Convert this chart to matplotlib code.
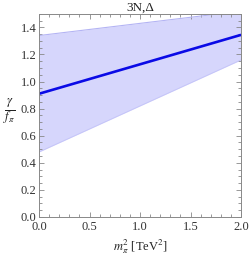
import numpy as np
import matplotlib
matplotlib.use("Agg")
import matplotlib.pyplot as plt
from matplotlib.ticker import MultipleLocator

# values
m2 = [0.0, 2.0]
central = [0.91, 1.345]
upper = [1.34, 1.52]
lower = [0.48, 1.16]

plt.rcParams['font.family'] = ['Liberation Serif', 'DejaVu Serif']
plt.rcParams['mathtext.fontset'] = 'stix'

fig = plt.figure(figsize=(2.49, 2.57), dpi=100)
ax = fig.add_axes([0.157, 0.156, 0.811, 0.79])

ax.fill_between(m2, lower, upper, color='#d6d6fc', lw=0)
ax.plot(m2, upper, color='#b4b4f4', lw=0.8)
ax.plot(m2, lower, color='#c4c4f8', lw=0.6)
ax.plot(m2, central, color='#0a0ae6', lw=1.9, solid_capstyle='butt')

ax.set_xlim(0, 2.0)
ax.set_ylim(0, 1.5)
ax.xaxis.set_major_locator(MultipleLocator(0.5))
ax.xaxis.set_minor_locator(MultipleLocator(0.1))
ax.yaxis.set_major_locator(MultipleLocator(0.2))
ax.yaxis.set_minor_locator(MultipleLocator(0.05))
ax.xaxis.set_major_formatter(plt.FuncFormatter(lambda v, p: f"{v:.1f}"))
ax.yaxis.set_major_formatter(plt.FuncFormatter(lambda v, p: f"{v:.1f}"))

for s in ax.spines.values():
    s.set_color('#888888')
    s.set_linewidth(0.7)
ax.tick_params(which='both', direction='in', top=True, right=True,
               color='#888888', labelsize=9, labelcolor='#333333', width=0.6)
ax.tick_params(which='major', length=3.5)
ax.tick_params(axis='y', which='major', pad=2)
ax.tick_params(axis='x', which='major', pad=3)
ax.tick_params(which='minor', length=2)

ax.set_title('3N,Δ', fontsize=9.5, pad=2, color='#222222')
ax.set_xlabel(r'$m_\pi^2$ [TeV$^2$]', fontsize=9, labelpad=3, color='#222222')
fig.text(0.035, 0.565, r'$\frac{\gamma}{f_\pi}$', fontsize=13, ha='center', va='center',
         color='#222222')

fig.savefig('out.png', dpi=100)
